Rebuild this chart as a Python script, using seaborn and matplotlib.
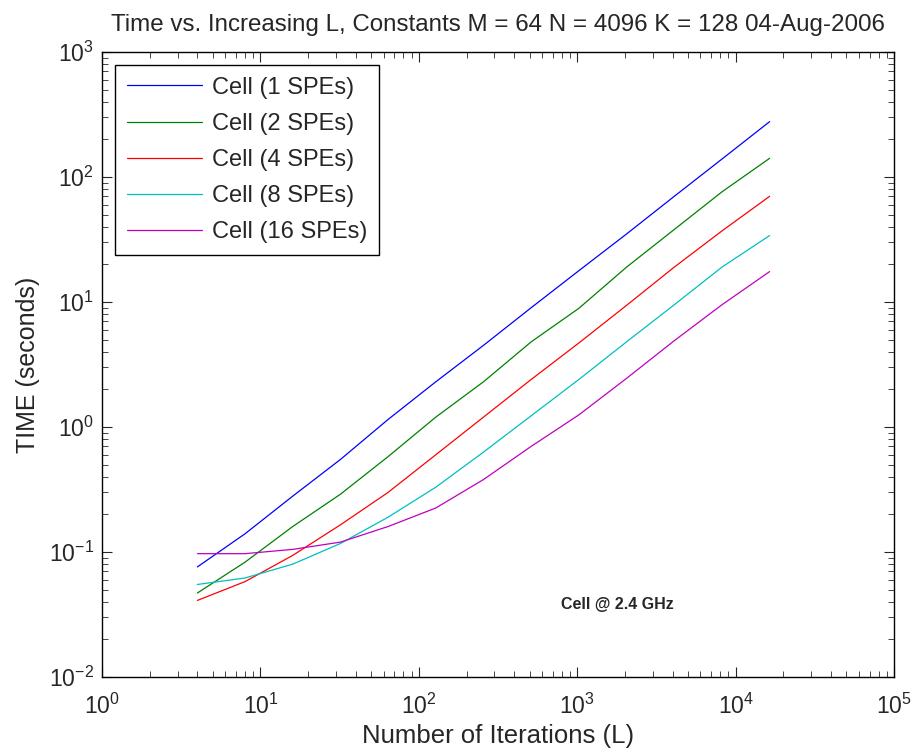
import numpy as np
import pandas as pd
import matplotlib
matplotlib.use("Agg")
import matplotlib.pyplot as plt
import seaborn as sns

# Number of iterations L (powers of 2)
iterations = [4, 8, 16, 32, 64, 128, 256, 512, 1024, 2048, 4096, 8192, 16384]

# Time in seconds for each SPE count
time_1spe = [0.076, 0.14, 0.28, 0.55, 1.15, 2.3, 4.5, 9.0, 17.8, 35, 70, 139, 277]
time_2spe = [0.047, 0.083, 0.16, 0.29, 0.58, 1.2, 2.3, 4.8, 8.9, 19, 38, 76, 141]
time_4spe = [0.041, 0.058, 0.094, 0.165, 0.30, 0.60, 1.2, 2.4, 4.7, 9.4, 19, 37, 70]
time_8spe = [0.055, 0.062, 0.08, 0.117, 0.19, 0.33, 0.63, 1.23, 2.4, 4.8, 9.5, 19, 34]
time_16spe = [0.097, 0.097, 0.105, 0.12, 0.16, 0.225, 0.38, 0.70, 1.25, 2.45, 4.9, 9.5, 17.5]

series_names = ['Cell (1 SPEs)', 'Cell (2 SPEs)', 'Cell (4 SPEs)', 'Cell (8 SPEs)', 'Cell (16 SPEs)']
series_values = [time_1spe, time_2spe, time_4spe, time_8spe, time_16spe]
# cores estilo MATLAB (b, g, r, c, m)
cor_valores = [(0, 0, 1), (0, 0.5, 0), (1, 0, 0), (0, 0.75, 0.75), (0.75, 0, 0.75)]

# Monta tabela longa para o seaborn
base = pd.concat(
    [pd.DataFrame({'L': iterations, 'tempo': v, 'serie': n}) for n, v in zip(series_names, series_values)],
    ignore_index=True)

sns.set_style('ticks')
plt.rcParams['font.family'] = ['Liberation Sans', 'DejaVu Sans']
plt.rcParams['mathtext.fontset'] = 'custom'
plt.rcParams['mathtext.rm'] = 'Liberation Sans'

fig = plt.figure(figsize=(9.15, 7.52), dpi=100)
ax = fig.add_axes([0.1115, 0.0997, 0.8656, 0.8312])

sns.lineplot(data=base, x='L', y='tempo', hue='serie', hue_order=series_names,
             palette=dict(zip(series_names, cor_valores)), linewidth=0.9, ax=ax)

ax.set_xscale('log')
ax.set_yscale('log')
ax.set_xlim(1, 1e5)
ax.set_ylim(1e-2, 1e3)

ax.tick_params(which='both', direction='in', top=True, right=True, labelsize=16.5)
ax.tick_params(axis='x', pad=12)
ax.tick_params(axis='y', pad=6)
ax.tick_params(which='major', length=7, width=0.8)
ax.tick_params(which='minor', length=4, width=0.6)
for s in ax.spines.values():
    s.set_linewidth(1.0)
    s.set_color('black')

ax.set_title('Time vs. Increasing L, Constants M = 64 N = 4096 K = 128 04-Aug-2006', fontsize=17.4, pad=15)
ax.set_xlabel('Number of Iterations (L)', fontsize=18.5, labelpad=4)
ax.set_ylabel('TIME (seconds)', fontsize=18, labelpad=6)

ax.text(790, 0.038, 'Cell @ 2.4 GHz', fontsize=11.5, fontweight='bold', va='center')

leg = ax.legend(loc='upper left', fontsize=17, frameon=True, fancybox=False,
                edgecolor='black', framealpha=1, handlelength=3.2, handletextpad=0.4,
                borderpad=0.5, labelspacing=0.6, borderaxespad=0.55)
leg.get_frame().set_linewidth(1.0)
leg.set_title(None)

fig.savefig('out.png', dpi=100)
